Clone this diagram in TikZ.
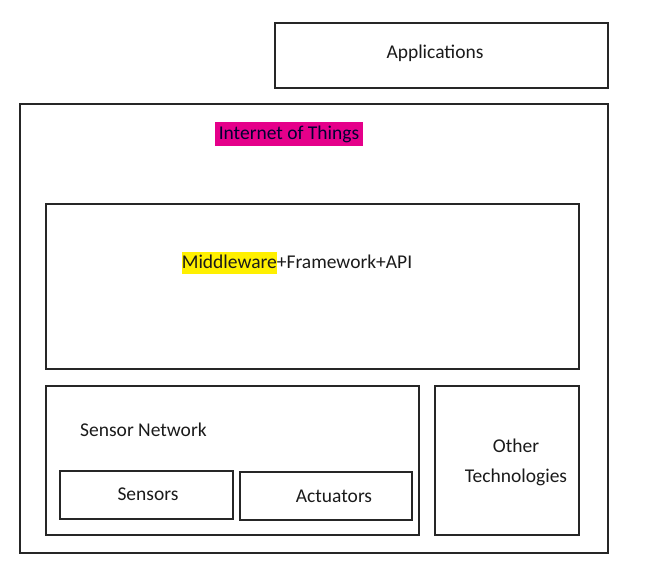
\documentclass[tikz,border=0pt]{standalone}
\usepackage{fontspec}
\setmainfont{Carlito}
\definecolor{hlmag}{HTML}{E5008A}
\definecolor{hlyel}{HTML}{FFF000}
\definecolor{txt}{HTML}{1A1A1A}
\begin{document}
\begin{tikzpicture}[x=1pt,y=-1pt,
  box/.style={draw=black!85, line width=1.3pt, rectangle, inner sep=0pt, align=center, text=txt},
  lbl/.style={inner sep=0pt, text=txt, align=center},
  every node/.append style={font=\fontsize{19.5}{30}\selectfont}]
\useasboundingbox (0,0) rectangle (652,573);
\node[box, minimum width=333pt, minimum height=65pt] (app) at (441.5,55.5) {};
\node[lbl] (appt) at (435,53) {Applications};
\node[box, minimum width=588pt, minimum height=449pt] (iot) at (314,328.5) {};
\node[fill=hlmag, text=black!80!blue, inner xsep=4pt, inner ysep=3pt, minimum height=24pt] (iott) at (289,134) {Internet of Things};
\node[box, minimum width=533pt, minimum height=165pt] (mw) at (312.5,286.5) {};
\node[lbl] (mwt) at (297,263) {\setlength{\fboxsep}{0pt}\colorbox{hlyel}{\rule[-6pt]{0pt}{22pt}Middleware}+Framework+API};
\node[box, minimum width=373pt, minimum height=149pt] (sn) at (232.5,460.5) {};
\node[lbl, anchor=west] (snt) at (80,430) {Sensor Network};
\node[box, minimum width=173pt, minimum height=48pt] (sens) at (146.5,495) {};
\node[lbl] (senst) at (148,494) {Sensors};
\node[box, minimum width=172pt, minimum height=48pt] (act) at (326,496) {};
\node[lbl] (actt) at (334,496) {Actuators};
\node[box, minimum width=144pt, minimum height=149pt] (oth) at (507,460.5) {};
\node[lbl] (otht) at (516,462) {Other\\Technologies};
\end{tikzpicture}
\end{document}
